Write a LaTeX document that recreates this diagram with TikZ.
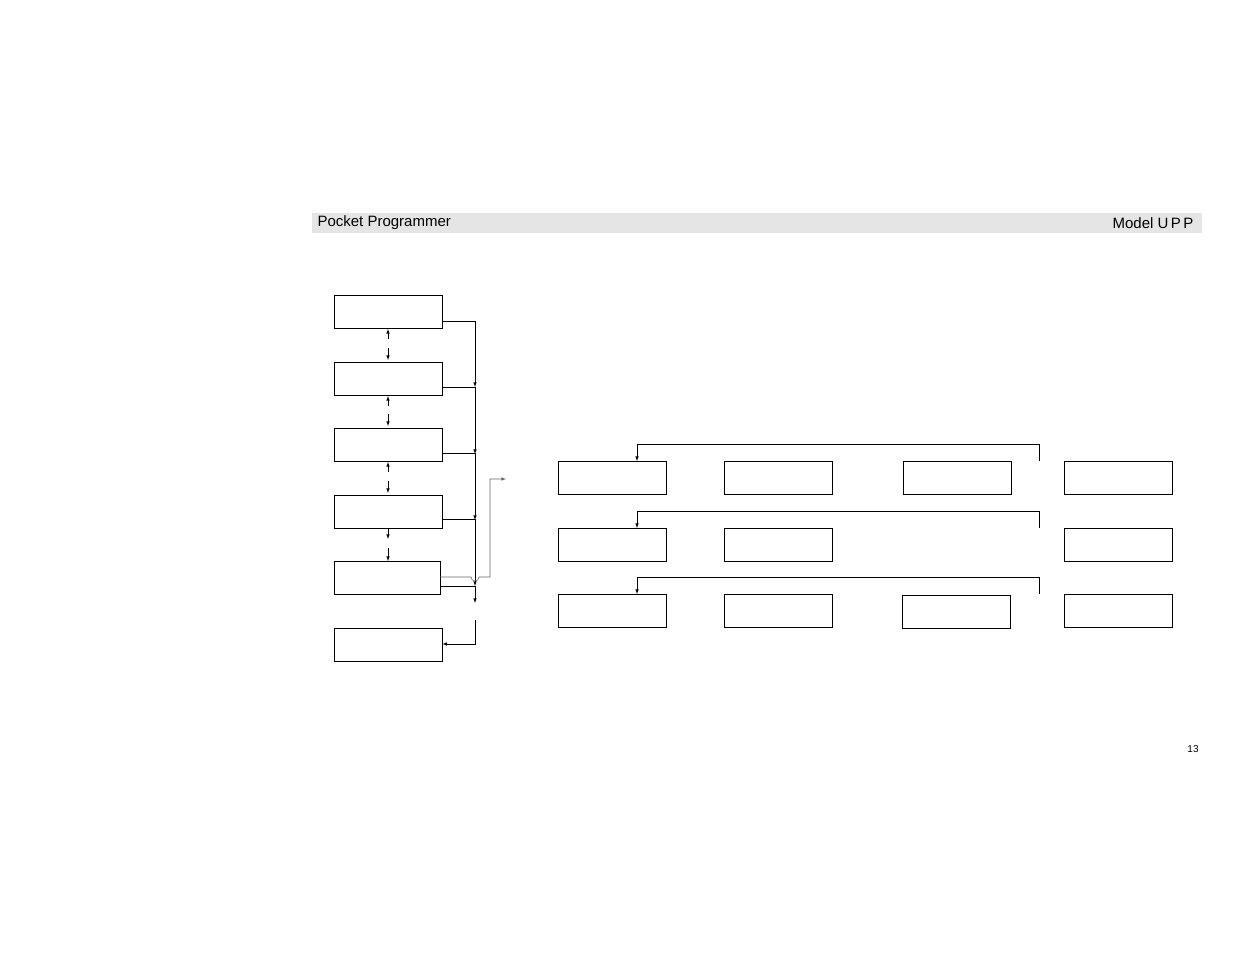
\documentclass[tikz,border=0pt]{standalone}
\usepackage{fontspec}
\setmainfont{Liberation Sans}
\begin{document}
\begin{tikzpicture}[x=1pt,y=-1pt,>=latex,
  scrbox/.style={draw,minimum width=108pt,minimum height=33pt,inner sep=0pt,anchor=north west},
  link/.style={->,semithick}]
\useasboundingbox (0,0) rectangle (1235,954);
\fill[black!10] (312,213) rectangle (1202,233);
\node[anchor=west,font=\fontsize{15}{15}\selectfont] (title) at (314,223) {Pocket Programmer};
\node[anchor=east,font=\fontsize{15}{15}\selectfont] (model) at (1197,223) {Model U\,P\,P};
\node[font=\fontsize{10}{10}\selectfont] (page) at (1193,749) {13};

% menu column
\node[scrbox] (m1) at (334,295) {};
\node[scrbox] (m2) at (334,362) {};
\node[scrbox] (m3) at (334,428) {};
\node[scrbox] (m4) at (334,495) {};
\node[scrbox,minimum width=106pt] (m5) at (334,561) {};
\node[scrbox] (m6) at (334,628) {};

\foreach \y in {339,406,472} \draw[link] (388,\y) -- +(0,-10);
\foreach \y in {348,414,481} \draw[link] (388,\y) -- +(0,12);
\draw[link] (388,528) -- (388,539);
\draw[link] (388,548) -- (388,561);

\coordinate (b1) at (475,321);
\draw[link] (m1.east|-b1) -- (b1) -- (475,387);
\draw[link] (442,387) -- (475,387) -- (475,454);
\draw[link] (442,453) -- (475,453) -- (475,520);
\draw[link] (442,519) -- (475,519) -- (475,586);
\draw[link] (440,586) -- (475,586) -- (475,603);
\draw[link] (475,620) -- (475,644) -- (m6.east|-{(0,644)});
\draw[link,black!60] (440,577) -- (471,577) arc (180:0:4) -- (490,577) -- (490,479) -- (506,479);

% sub menus
\foreach \r/\y in {1/461,2/528,3/594}{
  \node[scrbox] (s\r a) at (558,\y) {};
  \node[scrbox] (s\r b) at (724,\y) {};
  \node[scrbox] (s\r d) at (1064,\y) {};
  \draw[link] (1039,\y) -- (1039,\y-17) -- (637,\y-17) -- (637,\y);
}
\node[scrbox] (s1c) at (903,461) {};
\node[scrbox] (s3c) at (902,595) {};
\end{tikzpicture}
\end{document}
